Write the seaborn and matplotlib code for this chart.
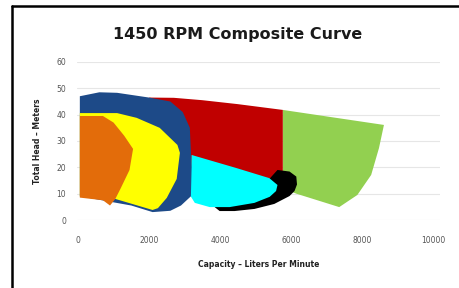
"""
1450 RPM composite pump curve - recreated with seaborn / matplotlib
"""

import matplotlib
matplotlib.use("Agg")
import matplotlib.pyplot as plt
from matplotlib.lines import Line2D
import seaborn as sns

# ---------------------------------------------------------------------------
# Data (capacity in L/min, head in m)
# ---------------------------------------------------------------------------
green_x = [5770, 8620, 8480, 8260, 7870, 7360, 6150, 5770]
green_y = [41.8, 36.1, 27.3, 17.1, 9.5, 4.9, 10.0, 12.0]

red_x = [2000, 2700, 3500, 4500, 5770, 5770, 4500, 3300, 3150]
red_y = [46.5, 46.4, 45.5, 44.0, 41.8, 12.0, 8.0, 10.0, 20.0]

black_x = [5620, 5960, 6150, 6170, 6100, 5960, 5530, 4970, 4410, 3990, 3850, 5110]
black_y = [19.0, 18.4, 16.5, 13.5, 11.0, 9.1, 6.1, 4.2, 3.4, 3.4, 4.9, 11.4]

cyan_x = [3200, 4470, 5390, 5620, 5580, 5400, 4970, 4270, 3710, 3290, 3150]
cyan_y = [24.7, 19.7, 15.9, 13.3, 11.0, 8.8, 6.5, 4.9, 4.9, 6.5, 9.5]

blue_x = [50, 600, 1100, 2000, 2600, 2950, 3150, 3200, 3180, 2900, 2600, 2100, 1500, 50]
blue_y = [47.0, 48.5, 48.3, 46.5, 45.0, 41.0, 35.0, 20.0, 9.0, 5.5, 3.5, 3.0, 5.5, 9.0]

yellow_x = [50, 1100, 1650, 2300, 2800, 2870, 2780, 2500, 2250, 2100, 1050, 50]
yellow_y = [40.6, 40.6, 38.8, 35.0, 28.5, 25.5, 15.6, 8.4, 4.5, 3.8, 8.0, 9.0]

orange_x = [50, 700, 1000, 1300, 1550, 1450, 1200, 1050, 900, 700, 50]
orange_y = [39.5, 39.5, 37.0, 32.0, 27.0, 19.0, 12.0, 8.0, 5.5, 7.5, 8.5]

x_ticks = [0, 2000, 4000, 6000, 8000, 10000]
y_ticks = [0, 10, 20, 30, 40, 50, 60]

# drawing order: back to front
shapes = [
    (green_x, green_y, "#92d050"),
    (red_x, red_y, "#c00000"),
    (black_x, black_y, "#000000"),
    (cyan_x, cyan_y, "#00ffff"),
    (blue_x, blue_y, "#1d4a88"),
    (yellow_x, yellow_y, "#ffff00"),
    (orange_x, orange_y, "#e36c0a"),
]

# ---------------------------------------------------------------------------
# Plot
# ---------------------------------------------------------------------------
sns.set_style("white")
plt.rcParams["font.family"] = ["DejaVu Sans"]

fig = plt.figure(figsize=(4.59, 2.88), dpi=100)
ax = fig.add_axes([77 / 459, (288 - 220) / 288, (440 - 77) / 459, (220 - 62) / 288])

for xs, ys, col in shapes:
    ax.fill(xs, ys, color=col, linewidth=0, zorder=3)

ax.set_xlim(-30, 10200)
ax.set_ylim(0, 60)
ax.set_xticks(x_ticks)
ax.set_yticks(y_ticks)
ax.tick_params(axis="both", labelsize=5.5, labelcolor="#555555", length=0)
ax.tick_params(axis="x", pad=11.5)
ax.tick_params(axis="y", pad=8)
ax.yaxis.grid(True, color="#e6e6e6", linewidth=0.8, zorder=0)
ax.xaxis.grid(False)
for s in ax.spines.values():
    s.set_visible(False)

ax.set_xlabel("Capacity – Liters Per Minute", fontsize=5.5, fontweight="bold",
              color="#222222", labelpad=11)
ax.set_ylabel("Total Head – Meters", fontsize=5.5, fontweight="bold",
              color="#222222", labelpad=10)

fig.text(238 / 459, 1 - 35 / 288, "1450 RPM Composite Curve", ha="center",
         va="center", fontsize=11.5, fontweight="bold", color="#1a1a1a")

# outer frame (left and top edges visible)
fig.add_artist(Line2D([12 / 459, 12 / 459], [0, 1 - 6 / 288], color="black",
                      linewidth=1.8, transform=fig.transFigure))
fig.add_artist(Line2D([12 / 459, 1], [1 - 6 / 288, 1 - 6 / 288], color="black",
                      linewidth=1.8, transform=fig.transFigure))

fig.savefig("out.png", dpi=100)
